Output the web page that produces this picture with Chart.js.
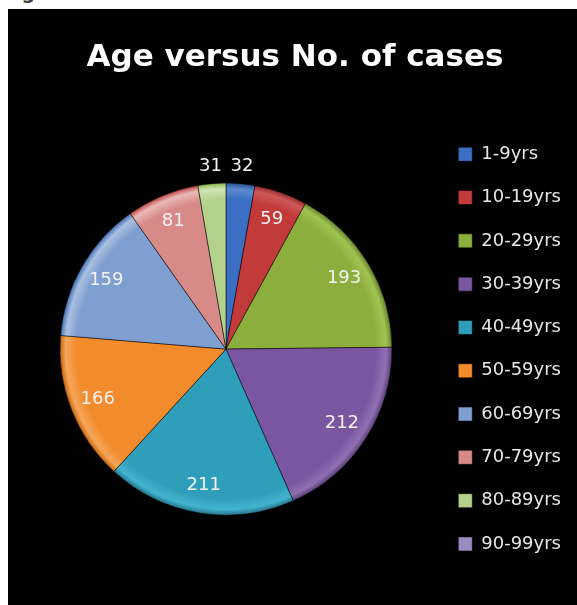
<!DOCTYPE html>
<html>
<head>
<meta charset="utf-8">
<script src="https://cdn.jsdelivr.net/npm/chart.js@4.4.1/dist/chart.umd.min.js"></script>
<style>
  body { margin: 0; background: #fff; width: 577px; height: 605px; overflow: hidden; position: relative; }
  #fig { position: absolute; left: 2px; top: -17px; font: bold 19px "DejaVu Sans"; color: #444; line-height: 19px; }
  #box { position: absolute; left: 8px; top: 9px; width: 569px; height: 596px; background: #000; }
</style>
</head>
<body>
<div id="fig">Figure 1</div>
<div id="box"><canvas id="ageChart" width="569" height="596"></canvas></div>
<script>
const ageGroups = ['1-9yrs', '10-19yrs', '20-29yrs', '30-39yrs', '40-49yrs',
    '50-59yrs', '60-69yrs', '70-79yrs', '80-89yrs', '90-99yrs'];
const cases = [32, 59, 193, 212, 211, 166, 159, 81, 31, 0];
const sliceColors = ['#3a6fc4', '#c23a39', '#8cae3c', '#7a56a0', '#2f9eba',
    '#f28b2b', '#7f9fd0', '#d88a88', '#b3d18a', '#9c8ac0'];

// Excel style rim: slightly lighter edge then a dark outline
function sliceFill(ctx)
{
    const chart = ctx.chart;
    const base = sliceColors[ctx.dataIndex];
    const area = chart.chartArea;
    if (!area) return base;
    const cx = (area.left + area.right) / 2;
    const cy = (area.top + area.bottom) / 2;
    const g = chart.ctx.createRadialGradient(cx, cy, 0, cx, cy, 166);
    g.addColorStop(0, base);
    g.addColorStop(0.9, base);
    g.addColorStop(0.965, Chart.helpers.color(base).lighten(0.18).rgbString());
    g.addColorStop(1, Chart.helpers.color(base).darken(0.25).rgbString());
    return g;
}

const valueLabels = {
    id: 'valueLabels',
    afterDatasetsDraw(chart) {
        const c = chart.ctx;
        const meta = chart.getDatasetMeta(0);
        const total = cases.reduce(function (a, b) { return a + b; }, 0);
        c.save();
        c.font = '18px "DejaVu Sans"';
        c.fillStyle = '#f2f2f2';
        c.textAlign = 'center';
        c.textBaseline = 'middle';
        meta.data.forEach(function (arc, i) {
            if (!cases[i]) return;
            const p = arc.getProps(['x', 'y', 'startAngle', 'endAngle', 'outerRadius'], true);
            const mid = (p.startAngle + p.endAngle) / 2;
            const d = cases[i] / total < 0.04 ? p.outerRadius + 17 : p.outerRadius * 0.83;
            c.fillText(String(cases[i]), p.x + Math.cos(mid) * d, p.y + Math.sin(mid) * d);
        });
        c.restore();
    }
};

const ageChart = new Chart(document.getElementById('ageChart').getContext('2d'), {
    type: 'pie',
    data: {
        labels: ageGroups,
        datasets: [{
            data: cases,
            backgroundColor: sliceFill,
            borderColor: 'rgba(0,0,0,0.5)',
            borderWidth: 1,
            radius: 166
        }]
    },
    options: {
        responsive: false,
        animation: false,
        layout: { padding: { left: 11, right: 6, top: 0, bottom: 22 } },
        plugins: {
            tooltip: { enabled: false },
            title: {
                display: true,
                text: 'Age versus No. of cases',
                color: '#ffffff',
                font: { family: 'DejaVu Sans', size: 31, weight: 'bold' },
                padding: { top: 30, bottom: 39 }
            },
            legend: {
                position: 'right',
                fullSize: false,
                labels: {
                    color: '#e6e6e6',
                    font: { family: 'DejaVu Sans', size: 18 },
                    boxWidth: 14,
                    boxHeight: 14,
                    padding: 25.3,
                    generateLabels: function (chart) {
                        const items = Chart.overrides.pie.plugins.legend.labels.generateLabels(chart);
                        items.forEach(function (it, i) {
                            it.fillStyle = sliceColors[i];
                            it.strokeStyle = 'rgba(0,0,0,0.5)';
                            it.lineWidth = 1;
                        });
                        return items;
                    }
                }
            }
        }
    },
    plugins: [valueLabels]
});
</script>
</body>
</html>
